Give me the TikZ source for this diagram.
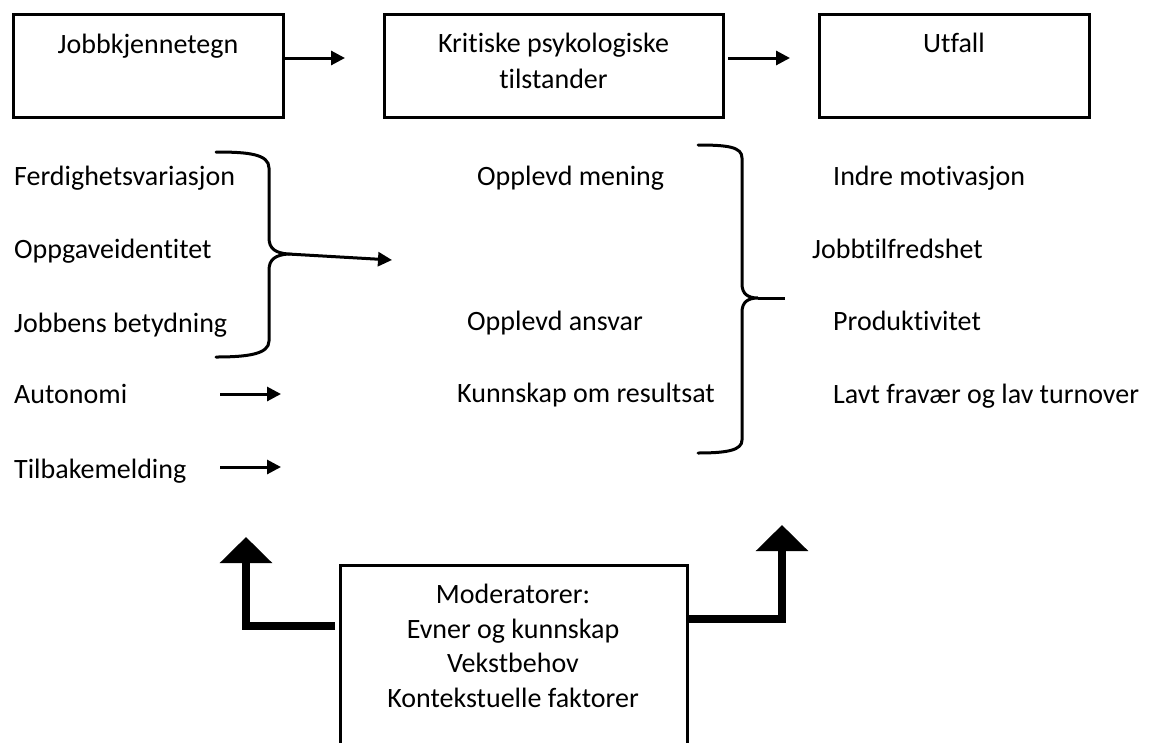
\documentclass[tikz,border=0pt]{standalone}
\usepackage{fontspec}
\setmainfont{Carlito}[Ligatures={NoCommon}, RawFeature={-liga;-clig;-dlig}]
\usetikzlibrary{arrows.meta}
\tikzset{
  txt/.style={inner sep=0pt, anchor=base west, font=\fontsize{28}{35}\selectfont},
  ctxt/.style={inner sep=0pt, anchor=base, font=\fontsize{28}{35}\selectfont},
  box/.style={draw, line width=3pt, inner sep=0pt, minimum height=103pt},
  arr/.style={line width=3pt, -{Triangle[length=14pt,width=14pt]}},
  brace/.style={line width=3pt, line cap=round},
  fat/.style={line width=8pt, line join=miter, -{Triangle[length=26pt,width=51pt]}},
}
\begin{document}
\begin{tikzpicture}[x=1pt,y=-1pt]
\useasboundingbox (0,0) rectangle (1155,742);
\clip (0,0) rectangle (1155,742);
\fill[white] (0,0) rectangle (1155,742);

% top boxes
\node[box, minimum width=270pt] (b1) at (148,65.5) {};
\node[box, minimum width=339pt] (b2) at (553.5,65.5) {};
\node[box, minimum width=270pt] (b3) at (954,65.5) {};
\node[ctxt] (t1) at (148,53) {Jobbkjennetegn};
\node[ctxt] (t2a) at (553.5,52) {Kritiske psykologiske};
\node[ctxt] (t2b) at (553.5,88) {tilstander};
\node[ctxt] (t3) at (954,52) {Utfall};

\coordinate (a1e) at (345,58);
\coordinate (a2s) at (728,58);
\coordinate (a2e) at (790,58);
\draw[arr] (b1.east |- a1e) -- (a1e);
\draw[arr] (a2s) -- (a2e);

% left column
\node[txt] (l1) at (14,185) {Ferdighetsvariasjon};
\node[txt] (l2) at (14,258) {Oppgaveidentitet};
\node[txt] (l3) at (14,332) {Jobbens betydning};
\node[txt] (l4) at (14,403) {Autonomi};
\node[txt] (l5) at (14,478) {Tilbakemelding};

% middle column
\node[txt] (m1) at (477,185) {Opplevd mening};
\node[txt] (m2) at (467,330) {Opplevd ansvar};
\node[txt] (m3) at (457,402) {Kunnskap om resultsat};

% right column
\node[txt] (r1) at (833,185) {Indre motivasjon};
\node[txt] (r2) at (812,258) {Jobbtilfredshet};
\node[txt] (r3) at (833,330) {Produktivitet};
\node[txt] (r4) at (833,403) {Lavt fravær og lav turnover};

% left brace
\coordinate (lbt) at (288,254);
\coordinate (lbe) at (392,260);
\draw[brace] (216,152) .. controls (248,152) and (269,154) .. (269,168)
  -- (269,238) .. controls (269,249) and (276,253) .. (lbt)
  .. controls (276,255) and (269,259) .. (269,270)
  -- (269,341) .. controls (269,354) and (248,357) .. (216,357);
\draw[arr] (lbt) -- (lbe);

% small arrows
\coordinate (s1s) at (220,394); \coordinate (s1e) at (281,394);
\coordinate (s2s) at (220,467); \coordinate (s2e) at (281,467);
\draw[arr] (s1s) -- (s1e);
\draw[arr] (s2s) -- (s2e);

% right brace
\coordinate (rbt) at (758,298);
\coordinate (rbe) at (785,298);
\draw[brace] (698,145) .. controls (728,145) and (742,147) .. (742,158)
  -- (742,284) .. controls (742,294) and (748,298) .. (rbt)
  .. controls (748,298) and (742,302) .. (742,312)
  -- (742,440) .. controls (742,450) and (728,453) .. (698,453);
\draw[brace, line cap=butt] (rbt) -- (rbe);

% bottom box (runs past the lower edge)
\node[draw, line width=3pt, inner sep=0pt, minimum width=347pt, minimum height=215pt] (mb) at (513.5,672.5) {};
\node[ctxt] (mt1) at (513,603) {Moderatorer:};
\node[ctxt] (mt2) at (513,638) {Evner og kunnskap};
\node[ctxt] (mt3) at (513,672) {Vekstbehov};
\node[ctxt] (mt4) at (513,707) {Kontekstuelle faktorer};

% thick arrows
\coordinate (fl) at (335,626);
\coordinate (flc) at (246,626);
\coordinate (flt) at (246,537);
\coordinate (fr) at (689,619);
\coordinate (frc) at (782,619);
\coordinate (frt) at (782,525);
\draw[fat] (fl) -- (flc) -- (flt);
\draw[fat] (fr) -- (frc) -- (frt);
\end{tikzpicture}
\end{document}
